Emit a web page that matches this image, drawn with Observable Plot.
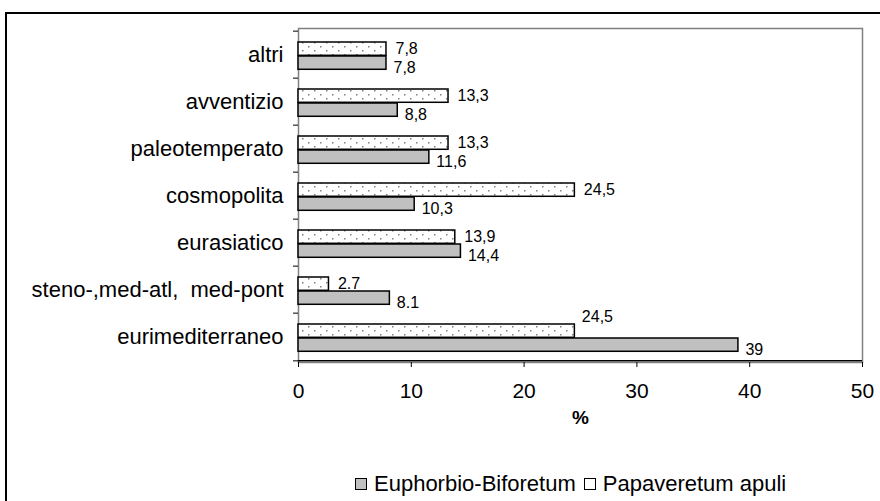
<!DOCTYPE html>
<html>
<head>
<meta charset="utf-8">
<script src="https://cdn.jsdelivr.net/npm/d3@7"></script>
<script src="https://cdn.jsdelivr.net/npm/@observablehq/plot@0.6"></script>
<style>
  html, body { margin: 0; padding: 0; background: #fff; }
  body { width: 880px; height: 501px; position: relative; overflow: hidden; font-family: "Liberation Sans", Arial, sans-serif; }
  #border { position: absolute; left: 5px; top: 12px; width: 1000px; height: 1000px; border: 2px solid #000; box-sizing: border-box; }
  #chart { position: absolute; left: 0; top: 0; }
  #legend { position: absolute; top: 471px; left: 355px; font-size: 22px; line-height: 26px; color: #000; white-space: nowrap; display: flex; align-items: center; }
  .sw { display: inline-block; width: 10px; height: 10px; border: 1px solid #000; margin-right: 7px; }
</style>
</head>
<body>
<div id="border"></div>
<div id="chart"></div>
<div id="legend">
  <span class="sw" style="background:#c0c0c0"></span><span style="margin-right:8px">Euphorbio-Biforetum</span>
  <span class="sw" style="background:#fff"></span><span>Papaveretum apuli</span>
</div>
<script>
const categories = ["altri", "avventizio", "paleotemperato", "cosmopolita", "eurasiatico", "steno-,med-atl,  med-pont", "eurimediterraneo"];
const euphorbio = [7.8, 8.8, 11.6, 10.3, 14.4, 8.1, 39];
const papaveretum = [7.8, 13.3, 13.3, 24.5, 13.9, 2.7, 24.5];
const euphorbioLabels = ["7,8", "8,8", "11,6", "10,3", "14,4", "8.1", "39"];
const papaveretumLabels = ["7,8", "13,3", "13,3", "24,5", "13,9", "2.7", "24,5"];
const xTicks = [0, 10, 20, 30, 40, 50];

const W = 880, H = 501, mt = 28, mb = 139, ml = 298, mr = 18;
const bw = (H - mt - mb) / categories.length;

const euData = categories.map((c, i) => ({cat: c, v: euphorbio[i], label: euphorbioLabels[i]}));
const paData = categories.map((c, i) => ({cat: c, v: papaveretum[i], label: papaveretumLabels[i]}));
const lastCat = categories[categories.length - 1];

const chart = Plot.plot({
  width: W, height: H,
  marginTop: mt, marginBottom: mb, marginLeft: ml, marginRight: mr,
  style: {fontFamily: "Liberation Sans, Arial, sans-serif", fontSize: "21px", color: "#000", background: "transparent", whiteSpace: "pre"},
  x: {domain: [0, 50], ticks: xTicks},
  y: {domain: categories, padding: 0},
  marks: [
    Plot.frame({stroke: "#808080", strokeWidth: 1.5}),
    Plot.ruleY([lastCat], {dy: bw / 2, stroke: "#000", strokeWidth: 1.5}),
    Plot.barX(paData, {x: "v", y: "cat", fill: "url(#dots)", stroke: "#000", strokeWidth: 1.5, insetTop: 11, insetBottom: bw - 25}),
    Plot.barX(euData, {x: "v", y: "cat", fill: "#c0c0c0", stroke: "#000", strokeWidth: 1.5, insetTop: 25, insetBottom: bw - 39}),
    Plot.text(paData.filter(d => d.cat !== lastCat), {x: "v", y: "cat", text: "label", textAnchor: "start", dx: 9, dy: -6, fontSize: 16}),
    Plot.text(paData.filter(d => d.cat === lastCat), {x: "v", y: "cat", text: "label", textAnchor: "start", dx: 7, dy: -20, fontSize: 16}),
    Plot.text(euData, {x: "v", y: "cat", text: "label", textAnchor: "start", dx: 7, dy: 13, fontSize: 16}),
    Plot.axisX({ticks: xTicks, tickSize: 5, tickPadding: 16, fontSize: 21, label: null, stroke: "#000"}),
    Plot.text(["%"], {frameAnchor: "bottom", dy: 61, fontWeight: "bold", fontSize: 19}),
    Plot.axisY({tickSize: 0, tickPadding: 15, fontSize: 22, label: null}),
    Plot.axisY({tickSize: 5, text: null, dy: -bw / 2, label: null}),
    Plot.axisY({ticks: [lastCat], tickSize: 5, text: null, dy: bw / 2, label: null})
  ]
});

d3.select(chart).insert("defs", ":first-child").html(
  `<pattern id="dots" patternUnits="userSpaceOnUse" width="12" height="8">
     <rect width="12" height="8" fill="#fff"/>
     <rect x="2" y="2" width="1.5" height="1.5" fill="#808080"/>
     <rect x="8" y="6" width="1.5" height="1.5" fill="#808080"/>
   </pattern>`
);

document.getElementById("chart").appendChild(chart);
</script>
</body>
</html>
